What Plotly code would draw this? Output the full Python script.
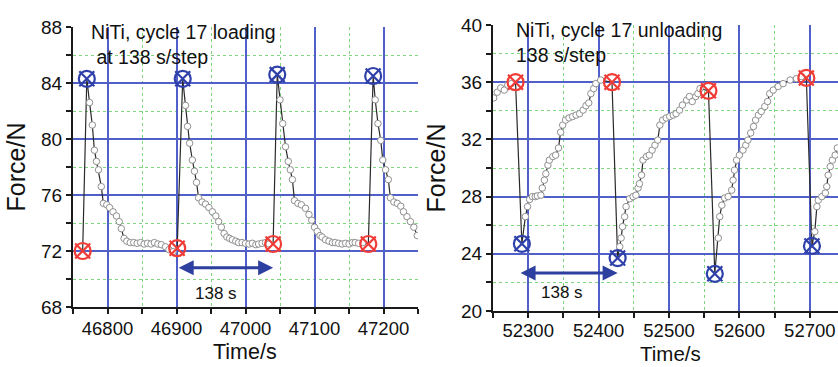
import plotly.graph_objects as go

# ---------------- Loading panel (NiTi, cycle 17 loading) ----------------
load_red_t = [46764, 46901, 47040, 47178]
load_red_f = [72.0, 72.2, 72.5, 72.5]
load_blue_t = [46770, 46909, 47046, 47185]
load_blue_f = [84.3, 84.3, 84.6, 84.5]

load_c1_t = [46774, 46778, 46781, 46784, 46787, 46791, 46794, 46799, 46803, 46808, 46813, 46817, 46820, 46824,
             46828, 46833, 46838, 46843, 46848, 46853, 46858, 46863, 46868, 46873, 46878, 46884, 46889, 46895]
load_c1_f = [82.6, 81.0, 79.2, 78.4, 77.8, 76.6, 75.4, 75.3, 75.1, 74.8, 74.5, 74.1, 73.6, 72.9,
             72.7, 72.6, 72.6, 72.55, 72.6, 72.5, 72.55, 72.5, 72.6, 72.5, 72.45, 72.3, 72.1, 71.95]
load_c2_t = [46913, 46916, 46919, 46923, 46926, 46929, 46932, 46937, 46942, 46947, 46952, 46957, 46961, 46965,
             46969, 46973, 46977, 46981, 46986, 46990, 46995, 47000, 47005, 47010, 47015, 47019, 47024, 47029, 47034]
load_c2_f = [82.4, 80.9, 79.7, 78.5, 77.7, 76.9, 75.8, 75.5, 75.35, 75.1, 74.8, 74.5, 74.1, 73.7,
             73.25, 73.0, 72.9, 72.8, 72.7, 72.6, 72.6, 72.55, 72.5, 72.55, 72.45, 72.5, 72.55, 72.6, 72.5]
load_c3_t = [47050, 47054, 47058, 47062, 47065, 47068, 47071, 47076, 47081, 47087, 47092, 47096, 47100, 47104,
             47108, 47111, 47116, 47121, 47126, 47130, 47135, 47140, 47145, 47150, 47155, 47159, 47164, 47170]
load_c3_f = [82.8, 81.1, 79.45, 78.4, 77.8, 77.1, 75.6, 75.4, 75.3, 75.05, 74.6, 74.2, 73.7, 73.4,
             73.1, 73.0, 72.8, 72.7, 72.6, 72.6, 72.55, 72.5, 72.55, 72.5, 72.6, 72.6, 72.55, 72.6]
load_c4_t = [47188, 47192, 47196, 47199, 47203, 47207, 47210, 47215, 47220, 47225, 47229, 47234, 47239, 47244, 47249]
load_c4_f = [82.8, 81.1, 79.9, 78.5, 77.8, 77.1, 75.8, 75.5, 75.4, 75.2, 74.8, 74.45, 74.1, 73.7, 73.1]

# ---------------- Unloading panel (NiTi, cycle 17 unloading) ----------------
unl_red_t = [52282, 52419, 52556, 52695]
unl_red_f = [36.0, 36.0, 35.4, 36.3]
unl_blue_t = [52291, 52427, 52565, 52703]
unl_blue_f = [24.7, 23.7, 22.6, 24.55]

unl_pre_t = [52251, 52256, 52261, 52266, 52271, 52276]
unl_pre_f = [34.9, 35.3, 35.6, 35.45, 35.8, 35.9]
unl_c1_t = [52296, 52299, 52302, 52306, 52310, 52313, 52318, 52320, 52323, 52325, 52328, 52330, 52335, 52339,
            52343, 52346, 52349, 52353, 52358, 52363, 52368, 52373, 52378, 52382, 52386, 52389, 52393, 52396, 52403]
unl_c1_f = [26.6, 27.3, 27.8, 28.0, 28.0, 28.05, 28.1, 28.6, 29.15, 29.6, 30.2, 30.55, 30.8, 30.9,
            31.4, 32.5, 33.0, 33.35, 33.5, 33.6, 33.7, 33.8, 34.05, 34.35, 34.55, 35.2, 35.55, 35.9, 36.15]
unl_c2_t = [52430, 52432, 52434, 52437, 52439, 52444, 52449, 52453, 52456, 52458, 52461, 52463, 52468, 52472,
            52476, 52480, 52484, 52487, 52491, 52496, 52501, 52506, 52510, 52515, 52519, 52525, 52529, 52533,
            52538, 52541, 52544]
unl_c2_f = [24.5, 25.1, 25.9, 26.6, 27.3, 27.85, 28.0, 28.1, 28.6, 28.9, 29.5, 30.55, 30.8, 30.9,
            31.25, 31.6, 31.95, 33.0, 33.35, 33.5, 33.6, 33.7, 33.8, 34.05, 34.4, 34.75, 35.0, 34.65,
            35.0, 35.2, 35.55]
unl_c3_t = [52570, 52572, 52575, 52579, 52584, 52589, 52591, 52593, 52596, 52600, 52605, 52609, 52612, 52616,
            52620, 52623, 52627, 52631, 52636, 52640, 52643, 52648, 52655, 52662, 52672, 52681, 52688]
unl_c3_f = [25.1, 26.6, 27.4, 27.9, 28.0, 28.45, 29.15, 29.85, 30.55, 30.9, 31.25, 31.6, 31.95, 32.45,
            32.9, 33.35, 33.7, 33.95, 34.3, 34.65, 35.2, 35.45, 35.7, 35.9, 36.15, 36.25, 36.4]
unl_c4_t = [52707, 52710, 52712, 52717, 52722, 52724, 52726, 52729, 52732, 52736, 52739]
unl_c4_f = [25.55, 27.3, 27.75, 28.0, 28.25, 28.7, 29.5, 30.1, 30.55, 30.9, 31.4]

# axis ticks (labelled) and major grid positions
load_yticks = [68, 72, 76, 80, 84, 88]
load_ygrid = [72, 76, 80, 84]
load_xticks = [46800, 46900, 47000, 47100, 47200]
unl_yticks = [20, 24, 28, 32, 36, 40]
unl_ygrid = [24, 28, 32, 36]
unl_xticks = [52300, 52400, 52500, 52600, 52700]

FONT = "Liberation Sans, Arial, sans-serif"
BLUE_GRID = "#5060c8"
GREEN_GRID = "#7fd67f"
RED = "#f03c36"
BLUE = "#2f40aa"
ARROW = "#2d3f9f"

# build the connected sequences
load_cycles_t = [load_c1_t, load_c2_t, load_c3_t, load_c4_t]
load_cycles_f = [load_c1_f, load_c2_f, load_c3_f, load_c4_f]
load_line_t, load_line_f, load_gray_t, load_gray_f = [], [], [], []
for i in range(4):
    load_line_t += [load_red_t[i], load_blue_t[i]] + load_cycles_t[i]
    load_line_f += [load_red_f[i], load_blue_f[i]] + load_cycles_f[i]
    load_gray_t += load_cycles_t[i]
    load_gray_f += load_cycles_f[i]

unl_cycles_t = [unl_c1_t, unl_c2_t, unl_c3_t, unl_c4_t]
unl_cycles_f = [unl_c1_f, unl_c2_f, unl_c3_f, unl_c4_f]
unl_line_t, unl_line_f = list(unl_pre_t), list(unl_pre_f)
unl_gray_t, unl_gray_f = list(unl_pre_t), list(unl_pre_f)
for i in range(4):
    unl_line_t += [unl_red_t[i], unl_blue_t[i]] + unl_cycles_t[i]
    unl_line_f += [unl_red_f[i], unl_blue_f[i]] + unl_cycles_f[i]
    unl_gray_t += unl_cycles_t[i]
    unl_gray_f += unl_cycles_f[i]

fig = go.Figure()


def add_panel(xa, ya, line_t, line_f, gray_t, gray_f, red_t, red_f, blue_t, blue_f):
    fig.add_trace(go.Scatter(x=line_t, y=line_f, xaxis=xa, yaxis=ya, mode="lines",
                             line=dict(color="#2a2a2a", width=1.2), hoverinfo="skip", showlegend=False))
    fig.add_trace(go.Scatter(x=gray_t, y=gray_f, xaxis=xa, yaxis=ya, mode="markers",
                             marker=dict(symbol="circle", size=6.5, color="white",
                                         line=dict(color="#8f8f8f", width=1)), showlegend=False))
    for t, f, c in ((red_t, red_f, RED), (blue_t, blue_f, BLUE)):
        fig.add_trace(go.Scatter(x=t, y=f, xaxis=xa, yaxis=ya, mode="markers",
                                 marker=dict(symbol="circle-open", size=16, color=c,
                                             line=dict(color=c, width=2.2)), showlegend=False))
        fig.add_trace(go.Scatter(x=t, y=f, xaxis=xa, yaxis=ya, mode="markers",
                                 marker=dict(symbol="x-thin-open", size=15, color=c,
                                             line=dict(color=c, width=2.2)), showlegend=False))


add_panel("x", "y", load_line_t, load_line_f, load_gray_t, load_gray_f,
          load_red_t, load_red_f, load_blue_t, load_blue_f)
add_panel("x2", "y2", unl_line_t, unl_line_f, unl_gray_t, unl_gray_f,
          unl_red_t, unl_red_f, unl_blue_t, unl_blue_f)

W, H = 838, 367
LEFT_X = [73 / W, 418 / W]
RIGHT_X = [493 / W, 1.0]
LEFT_Y = [1 - 307 / H, 1 - 27 / H]
RIGHT_Y = [1 - 311 / H, 1 - 25 / H]
LOAD_T_RANGE = [46750, 47250]
UNL_T_RANGE = [52250, 52740]
LOAD_F_RANGE = [68, 88]
UNL_F_RANGE = [20, 40]

# invisible helper traces so the grid-only overlay axes are created
fig.add_trace(go.Scatter(x=[load_line_t[0]], y=[load_line_f[0]], xaxis="x", yaxis="y3", mode="markers",
                         marker=dict(opacity=0), hoverinfo="skip", showlegend=False))
fig.add_trace(go.Scatter(x=[unl_line_t[0]], y=[unl_line_f[0]], xaxis="x2", yaxis="y4", mode="markers",
                         marker=dict(opacity=0), hoverinfo="skip", showlegend=False))


def xaxis_cfg(domain, rng, ticks, anchor, standoff):
    return dict(domain=domain, range=rng, anchor=anchor, tickvals=ticks, tickformat="d",
                showline=True, linecolor="#1a1a1a", linewidth=2,
                ticks="outside", ticklen=5, tickwidth=1.5, tickcolor="#1a1a1a",
                showgrid=True, gridcolor=BLUE_GRID, gridwidth=1.6, zeroline=False,
                minor=dict(dtick=50, tick0=0, ticks="outside", ticklen=5, tickwidth=1.5, tickcolor="#1a1a1a",
                           showgrid=True, gridcolor=GREEN_GRID, griddash="dot", gridwidth=1.2),
                tickfont=dict(family=FONT, size=18.5, color="#111"), ticklabelstandoff=standoff,
                automargin=False)


def yaxis_cfg(domain, rng, ticks, anchor, minor_step):
    return dict(domain=domain, range=rng, anchor=anchor, tickvals=ticks,
                showline=True, linecolor="#1a1a1a", linewidth=2,
                ticks="outside", ticklen=5, tickwidth=1.5, tickcolor="#1a1a1a",
                showgrid=False, zeroline=False,
                minor=dict(dtick=minor_step, tick0=0, ticks="outside", ticklen=5, tickwidth=1.5,
                           tickcolor="#1a1a1a", showgrid=True, gridcolor=GREEN_GRID, griddash="dot", gridwidth=1.2),
                tickfont=dict(family=FONT, size=19, color="#111"),
                title=dict(text="Force/N", font=dict(family=FONT, size=25, color="#111"), standoff=8),
                automargin=False)


def ygrid_cfg(overlay, anchor, rng, grid_vals):
    return dict(overlaying=overlay, anchor=anchor, range=rng, tickvals=grid_vals,
                showticklabels=False, ticks="", showline=False, zeroline=False,
                showgrid=True, gridcolor=BLUE_GRID, gridwidth=1.6, automargin=False)


fig.update_layout(
    width=W, height=H, margin=dict(l=0, r=0, t=0, b=0),
    paper_bgcolor="white", plot_bgcolor="white",
    xaxis=xaxis_cfg(LEFT_X, LOAD_T_RANGE, load_xticks, "y", -1),
    yaxis=yaxis_cfg(LEFT_Y, LOAD_F_RANGE, load_yticks, "x", 2),
    xaxis2=xaxis_cfg(RIGHT_X, UNL_T_RANGE, unl_xticks, "y2", -3),
    yaxis2=yaxis_cfg(RIGHT_Y, UNL_F_RANGE, unl_yticks, "x2", 2),
    yaxis3=ygrid_cfg("y", "x", LOAD_F_RANGE, load_ygrid),
    yaxis4=ygrid_cfg("y2", "x2", UNL_F_RANGE, unl_ygrid),
    annotations=[
        dict(text="Time/s", xref="paper", yref="paper", x=245 / W, y=1 - 352 / H,
             xanchor="center", yanchor="middle", showarrow=False,
             font=dict(family=FONT, size=21.5, color="#111")),
        dict(text="Time/s", xref="paper", yref="paper", x=670 / W, y=1 - 353.5 / H,
             xanchor="center", yanchor="middle", showarrow=False,
             font=dict(family=FONT, size=20.5, color="#111")),
        dict(text="NiTi, cycle 17 loading<br> at 138 s/step", xref="paper", yref="paper",
             x=89 / W, y=1 - 19 / H, xanchor="left", yanchor="top", align="left", showarrow=False,
             font=dict(family=FONT, size=19.5, color="#111")),
        dict(text="NiTi, cycle 17 unloading<br>138 s/step", xref="paper", yref="paper",
             x=514 / W, y=1 - 17 / H, xanchor="left", yanchor="top", align="left", showarrow=False,
             font=dict(family=FONT, size=19.5, color="#111")),
        dict(x=47040, y=70.8, ax=46901, ay=70.8, xref="x", yref="y", axref="x", ayref="y",
             text="", showarrow=True, arrowhead=2, startarrowhead=2, arrowside="end+start",
             arrowsize=1.0, startarrowsize=1.0, arrowwidth=3, arrowcolor=ARROW),
        dict(x=46957, y=69.0, xref="x", yref="y", text="138 s", showarrow=False,
             font=dict(family=FONT, size=17, color="#111")),
        dict(x=52427, y=22.66, ax=52287, ay=22.66, xref="x2", yref="y2", axref="x2", ayref="y2",
             text="", showarrow=True, arrowhead=2, startarrowhead=2, arrowside="end+start",
             arrowsize=1.0, startarrowsize=1.0, arrowwidth=3, arrowcolor=ARROW),
        dict(x=52348, y=21.26, xref="x2", yref="y2", text="138 s", showarrow=False,
             font=dict(family=FONT, size=17, color="#111")),
    ],
)

fig.write_html("out.html")
